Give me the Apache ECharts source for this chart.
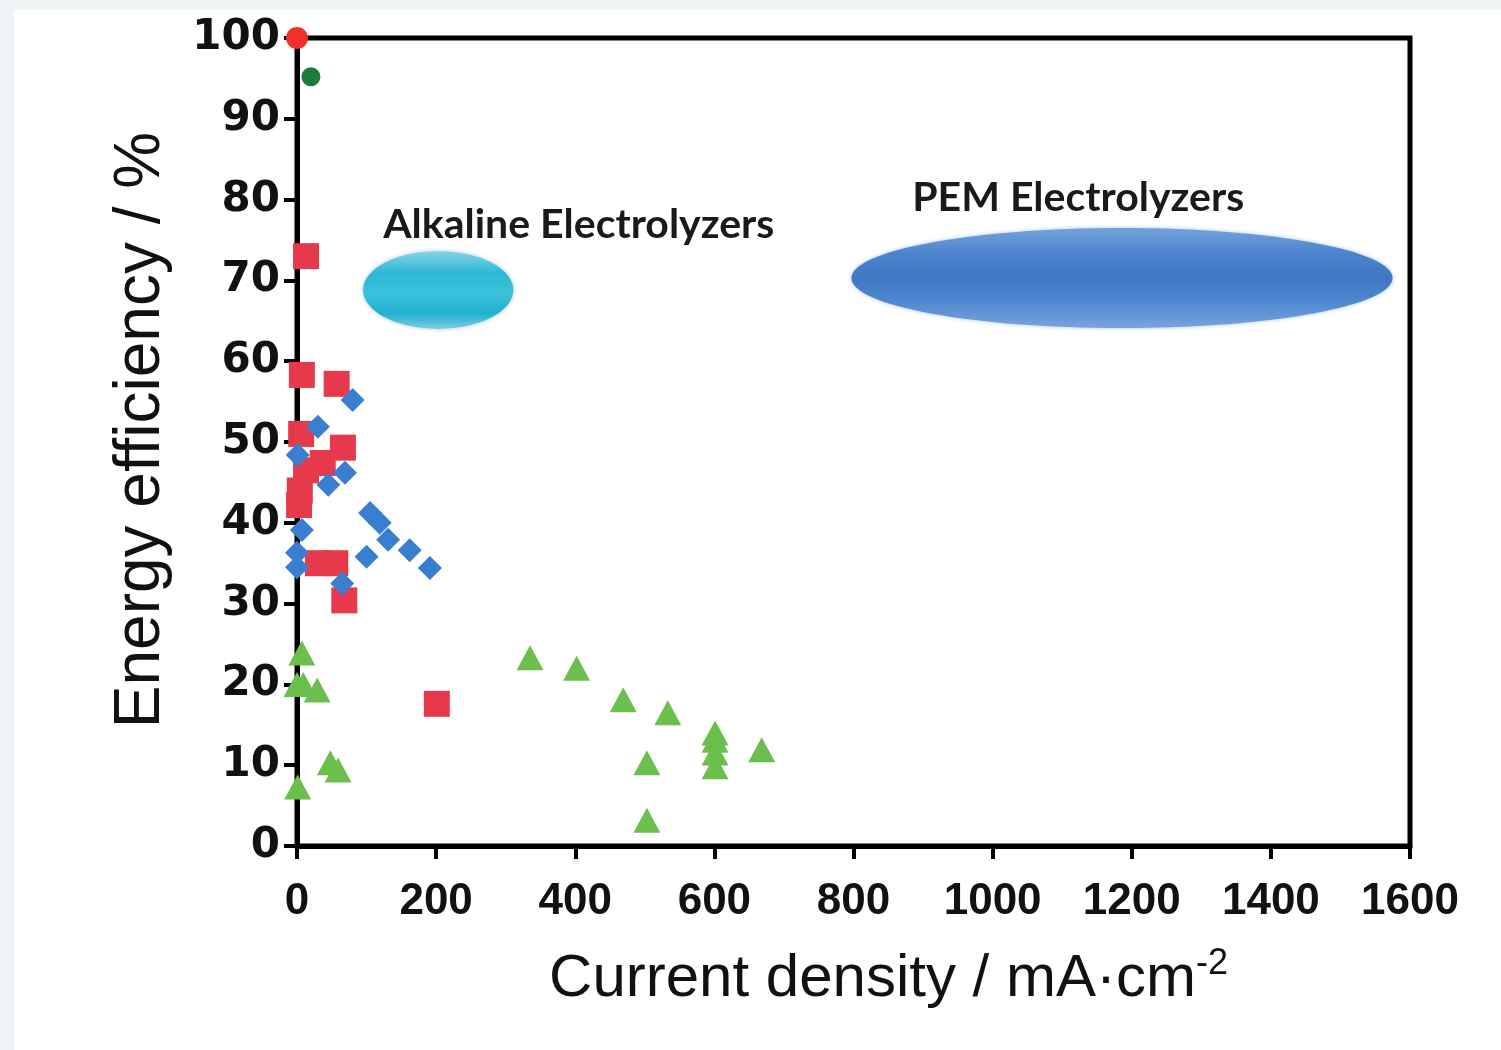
<!DOCTYPE html>
<html>
<head>
<meta charset="utf-8">
<script src="https://cdn.jsdelivr.net/npm/echarts@6/dist/echarts.min.js"></script>
<style>
html,body{margin:0;padding:0;background:#eef3f6;width:1501px;height:1050px;overflow:hidden;}
#chart{position:absolute;left:14px;top:10px;width:1487px;height:1040px;background:#fff;}
</style>
</head>
<body>
<div id="chart"></div>
<script>
// ---- data (current density mA/cm2, energy efficiency %) ----
const xTicks = [0, 200, 400, 600, 800, 1000, 1200, 1400, 1600];
const yTicks = [0, 10, 20, 30, 40, 50, 60, 70, 80, 90, 100];

const redCircle = [[0, 100]];
const darkGreenCircle = [[20, 95.2]];

const redSquares = [
  [13, 73], [7, 58.3], [57, 57.2], [6, 51], [66, 49.3], [37, 47.4], [13, 46.5],
  [4, 44], [3, 42.2], [30, 35], [55, 35], [68, 30.4], [201, 17.6]
];

const blueDiamonds = [
  [80, 55.2], [30, 51.9], [1, 48.4], [69, 46.2], [45, 44.7], [105, 41.2],
  [119, 40], [131, 37.9], [162, 36.6], [100, 35.8], [191, 34.4], [7, 39.1],
  [0, 36.3], [0, 34.5], [65, 32.5]
];

const greenTriangles = [
  [7, 23.9], [0, 20], [9, 20], [29, 19.3], [48, 10.3], [59, 9.4], [1, 7.3],
  [335, 23.3], [402, 22], [469, 18.1], [533, 16.5], [503, 10.3], [503, 3.2],
  [601, 14], [601, 13.1], [601, 11.5], [601, 9.8], [668, 11.9]
];

// regions: [centerX, centerY, halfWidth, halfHeight] in data units
const regionNames = ['Alkaline Electrolyzers', 'PEM Electrolyzers'];
const regionEllipses = [[203, 68.8, 108, 4.8], [1186, 70.3, 389, 6.2]];
const regionLabelPos = [[405, 76.9], [1123, 80.2]];

const chart = echarts.init(document.getElementById('chart'));

const ellipseFills = [
  new echarts.graphic.LinearGradient(0, 0, 0, 1, [
    {offset: 0, color: '#86d3e5'}, {offset: 0.28, color: '#2cb8d4'},
    {offset: 0.55, color: '#3cc1da'}, {offset: 0.8, color: '#20b0ce'},
    {offset: 1, color: '#7acde2'}
  ]),
  new echarts.graphic.LinearGradient(0, 0, 0, 1, [
    {offset: 0, color: '#74a3dc'}, {offset: 0.25, color: '#4c84cc'},
    {offset: 0.5, color: '#3f77c3'}, {offset: 0.72, color: '#4d86ce'},
    {offset: 1, color: '#78a4dc'}
  ])
];

chart.setOption({
  backgroundColor: '#ffffff',
  animation: false,
  grid: {
    left: 283, right: 91, top: 28, bottom: 204,
    show: true, borderColor: '#000', borderWidth: 5, backgroundColor: 'transparent'
  },
  xAxis: {
    type: 'value', min: xTicks[0], max: xTicks[xTicks.length - 1], interval: 200,
    splitLine: {show: false},
    axisLine: {show: true, lineStyle: {color: '#000', width: 5}},
    axisTick: {show: true, inside: false, length: 13, lineStyle: {color: '#000', width: 4}},
    axisLabel: {
      color: '#111', fontFamily: 'Liberation Sans', fontWeight: 'bold', fontSize: 44, margin: 34,
      formatter: function (v) { return String(v); }
    },
    name: '{m|Current density / mA·cm}{s|-2}',
    nameLocation: 'middle', nameGap: 100,
    nameTextStyle: {
      padding: [0, 0, 0, 70],
      rich: {
        m: {fontFamily: 'Liberation Sans', fontSize: 60, color: '#111', lineHeight: 66},
        s: {fontFamily: 'Liberation Sans', fontSize: 36, color: '#111', verticalAlign: 'top', lineHeight: 66}
      }
    }
  },
  yAxis: {
    type: 'value', min: yTicks[0], max: yTicks[yTicks.length - 1], interval: 10,
    splitLine: {show: false},
    axisLine: {show: true, lineStyle: {color: '#000', width: 5}},
    axisTick: {show: true, inside: false, length: 13, lineStyle: {color: '#000', width: 4}},
    axisLabel: {color: '#111', fontFamily: 'DejaVu Sans', fontWeight: 'bold', fontSize: 42, margin: 17},
    name: 'Energy efficiency / %',
    nameLocation: 'middle', nameGap: 124,
    nameTextStyle: {fontFamily: 'Liberation Sans', fontSize: 64, color: '#111', padding: [0, 0, 0, 24]}
  },
  series: [
    {
      type: 'custom', name: 'regions', z: 1, clip: false,
      data: regionEllipses.map((e, i) => e.concat([i])),
      renderItem: function (params, api) {
        const c = api.coord([api.value(0), api.value(1)]);
        const s = api.size([api.value(2), api.value(3)]);
        const idx = api.value(4);
        return {
          type: 'ellipse',
          shape: {cx: c[0], cy: c[1], rx: s[0], ry: s[1]},
          style: {fill: ellipseFills[idx], shadowBlur: 4, shadowColor: 'rgba(80,140,200,0.5)'}
        };
      }
    },
    {
      type: 'custom', name: 'regionLabels', z: 2, clip: false,
      data: regionLabelPos.map((p, i) => p.concat([i])),
      renderItem: function (params, api) {
        const c = api.coord([api.value(0), api.value(1)]);
        return {
          type: 'text',
          style: {
            text: regionNames[api.value(2)], x: c[0], y: c[1],
            align: 'center', verticalAlign: 'middle',
            font: 'bold 41px Lato', fill: '#1a1a1a'
          }
        };
      }
    },
    {
      type: 'scatter', name: 'squares', data: redSquares, symbol: 'rect', symbolSize: 26,
      itemStyle: {color: '#e63a4c', opacity: 1}, clip: false, z: 3
    },
    {
      type: 'scatter', name: 'diamonds', data: blueDiamonds, symbol: 'diamond', symbolSize: [24, 24],
      itemStyle: {color: '#3a7ed0', opacity: 1}, clip: false, z: 4
    },
    {
      type: 'scatter', name: 'triangles', data: greenTriangles, symbol: 'triangle', symbolSize: [27, 25],
      itemStyle: {color: '#6cbf4c', opacity: 1}, clip: false, z: 4
    },
    {
      type: 'scatter', name: 'redCircle', data: redCircle, symbol: 'circle', symbolSize: 22,
      itemStyle: {color: '#f2302a', opacity: 1}, clip: false, z: 5
    },
    {
      type: 'scatter', name: 'greenCircle', data: darkGreenCircle, symbol: 'circle', symbolSize: 19,
      itemStyle: {color: '#1d7a3a', opacity: 1}, clip: false, z: 5
    }
  ]
});
</script>
</body>
</html>
